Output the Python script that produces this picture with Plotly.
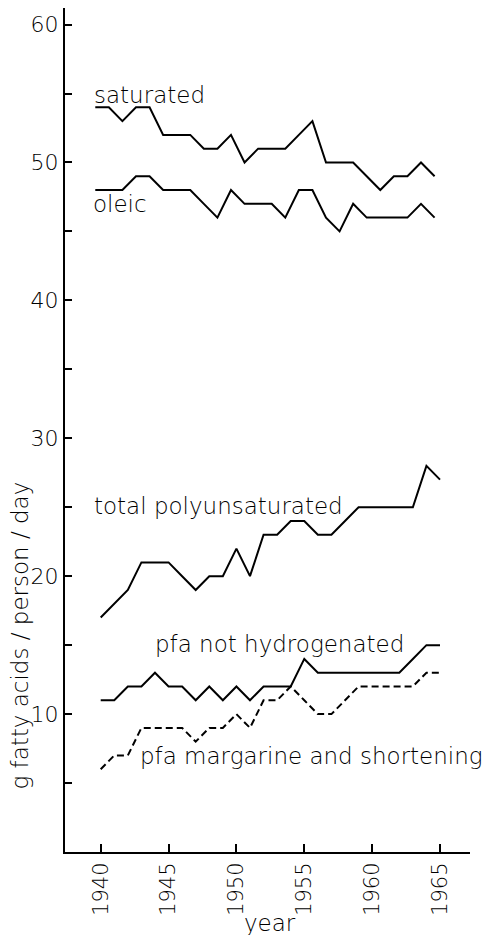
import plotly.graph_objects as go

# ---- data (g fatty acids / person / day) ----
years = list(range(1940, 1966))
saturated = [54, 54, 53, 54, 54, 52, 52, 52, 51, 51, 52, 50, 51, 51, 51, 52, 53, 50, 50, 50, 49, 48, 49, 49, 50, 49]
oleic = [48, 48, 48, 49, 49, 48, 48, 48, 47, 46, 48, 47, 47, 47, 46, 48, 48, 46, 45, 47, 46, 46, 46, 46, 47, 46]
total_polyunsaturated = [17, 18, 19, 21, 21, 21, 20, 19, 20, 20, 22, 20, 23, 23, 24, 24, 23, 23, 24, 25, 25, 25, 25, 25, 28, 27]
pfa_not_hydrogenated = [11, 11, 12, 12, 13, 12, 12, 11, 12, 11, 12, 11, 12, 12, 12, 14, 13, 13, 13, 13, 13, 13, 13, 14, 15, 15]
pfa_margarine_shortening = [6, 7, 7, 9, 9, 9, 9, 8, 9, 9, 10, 9, 11, 11, 12, 11, 10, 10, 11, 12, 12, 12, 12, 12, 13, 13]

x_tick_years = [1940, 1945, 1950, 1955, 1960, 1965]
y_major = [10, 20, 30, 40, 50, 60]
y_minor = [5, 15, 25, 35, 45, 55]

# the upper two curves are drawn slightly left of the year marks in the original
UPPER_SHIFT = -0.4

FONT = "DejaVu Sans"
WEIGHT = 200
INK = "#000000"

fig = go.Figure()

def add_line(xs, ys, dash="solid"):
    fig.add_trace(go.Scatter(
        x=xs, y=ys, mode="lines",
        line=dict(color=INK, width=2, dash=dash),
        showlegend=False, hoverinfo="skip",
    ))

add_line([y + UPPER_SHIFT for y in years], saturated)
add_line([y + UPPER_SHIFT for y in years], oleic)
add_line(years, total_polyunsaturated)
add_line(years, pfa_not_hydrogenated)
add_line(years, pfa_margarine_shortening, dash="7px,4px")

labels = [
    ("saturated", 1939.38, 54.9),
    ("oleic", 1939.29, 47.0),
    ("total polyunsaturated", 1939.34, 25.1),
    ("pfa not hydrogenated", 1943.83, 15.05),
    ("pfa margarine and shortening", 1942.77, 6.96),
]
for txt, lx, ly in labels:
    fig.add_annotation(x=lx, y=ly, xref="x", yref="y", text=txt,
                       showarrow=False, xanchor="left", yanchor="middle",
                       font=dict(family=FONT, size=23, color=INK, weight=WEIGHT))

fig.add_annotation(x=-0.11, y=0.257, xref="paper", yref="paper",
                   text="g fatty acids / person / day", textangle=-90,
                   showarrow=False, xanchor="center", yanchor="middle",
                   font=dict(family=FONT, size=23, color=INK, weight=WEIGHT))
fig.add_annotation(x=0.506, y=-0.084, xref="paper", yref="paper",
                   text="year", showarrow=False,
                   xanchor="center", yanchor="middle",
                   font=dict(family=FONT, size=23, color=INK, weight=WEIGHT))

fig.update_xaxes(
    range=[1937.37, 1967.21],
    tickmode="array", tickvals=x_tick_years,
    ticktext=[str(v) for v in x_tick_years],
    tickangle=-90, ticks="inside", ticklen=8, tickwidth=2, tickcolor=INK,
    tickfont=dict(family=FONT, size=21, color=INK, weight=WEIGHT),
    showline=True, linecolor=INK, linewidth=2,
    showgrid=False, zeroline=False,
)
fig.update_yaxes(
    range=[0, 61.2],
    tickmode="array", tickvals=y_major,
    ticktext=[str(v) for v in y_major],
    ticks="inside", ticklen=7, tickwidth=2, tickcolor=INK,
    minor=dict(tickmode="array", tickvals=y_minor, ticks="inside",
               ticklen=7, tickwidth=2, tickcolor=INK),
    tickfont=dict(family=FONT, size=22, color=INK, weight=WEIGHT),
    showline=True, linecolor=INK, linewidth=2,
    showgrid=False, zeroline=False,
)

fig.update_layout(
    width=490, height=935,
    margin=dict(l=65, r=20, t=8, b=83),
    paper_bgcolor="white", plot_bgcolor="white",
)

fig.write_html("out.html")
